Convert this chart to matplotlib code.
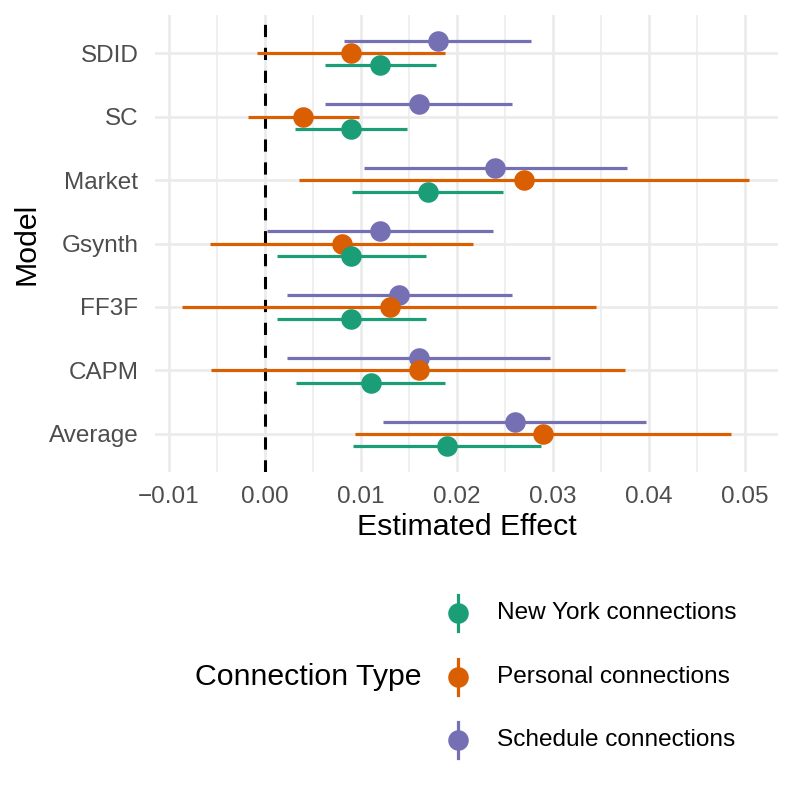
import matplotlib
matplotlib.use("Agg")
import numpy as np
import matplotlib.pyplot as plt
from matplotlib.lines import Line2D

plt.rcParams['font.family'] = ['Liberation Sans', 'DejaVu Sans']

# models, top to bottom
models = ["SDID", "SC", "Market", "Gsynth", "FF3F", "CAPM", "Average"]

# estimates and 95% interval per connection type (same order as models)
ny_est = [0.012, 0.009, 0.017, 0.009, 0.009, 0.011, 0.019]
ny_lo = [0.0062, 0.0031, 0.0091, 0.0012, 0.0012, 0.0032, 0.0092]
ny_hi = [0.0178, 0.0148, 0.0248, 0.0168, 0.0168, 0.0188, 0.0287]

pers_est = [0.009, 0.004, 0.027, 0.008, 0.013, 0.016, 0.029]
pers_lo = [-0.0008, -0.0018, 0.0035, -0.0057, -0.0086, -0.0056, 0.0094]
pers_hi = [0.0187, 0.0098, 0.0504, 0.0217, 0.0345, 0.0375, 0.0485]

sched_est = [0.018, 0.016, 0.024, 0.012, 0.014, 0.016, 0.026]
sched_lo = [0.0082, 0.0063, 0.0103, 0.0002, 0.0023, 0.0023, 0.0123]
sched_hi = [0.0277, 0.0257, 0.0377, 0.0237, 0.0257, 0.0297, 0.0397]

series = [
    ("Schedule connections", sched_est, sched_lo, sched_hi, "#7570B3", 0.19),
    ("Personal connections", pers_est, pers_lo, pers_hi, "#D95F02", 0.0),
    ("New York connections", ny_est, ny_lo, ny_hi, "#1B9E77", -0.19),
]

W = H = 793
fig = plt.figure(figsize=(W / 100, H / 100), dpi=100)
ax = fig.add_axes([155 / W, (H - 472) / H, 623 / W, 457 / H])

ypos = np.arange(len(models))[::-1] + 1  # SDID on top

for name, est, lo, hi, col, off in series:
    y = ypos + off
    ax.hlines(y, lo, hi, color=col, lw=2.3, zorder=3)
    ax.plot(est, y, "o", color=col, ms=14.8, mec="none", zorder=4)

ax.axvline(0, color="black", lw=2.2, linestyle=(0, (4, 3.5)), zorder=2)

ax.set_xlim(-0.01146, 0.05344)
ax.set_ylim(0.4, len(models) + 0.6)
ax.set_yticks(ypos)
ax.set_yticklabels(models)
xt = [-0.01, 0.0, 0.01, 0.02, 0.03, 0.04, 0.05]
ax.set_xticks(xt)
ax.set_xticklabels(["\u22120.01"] + ["%.2f" % v for v in xt[1:]])
ax.set_xticks(np.arange(-0.005, 0.051, 0.01), minor=True)

ax.grid(True, which="major", color="#EBEBEB", lw=1.9, zorder=0)
ax.grid(True, which="minor", axis="x", color="#EBEBEB", lw=1.1, zorder=0)
ax.set_axisbelow(True)
for s in ax.spines.values():
    s.set_visible(False)
ax.tick_params(which="both", length=0, labelsize=17.5, labelcolor="#4D4D4D")
ax.tick_params(axis="x", pad=10)
ax.tick_params(axis="y", pad=12)

ax.set_xlabel("Estimated Effect", fontsize=21.8, labelpad=4)
ax.set_ylabel("Model", fontsize=21.8, labelpad=6)

# legend, ggplot style at the bottom
fig.text(195 / W, 1 - 677 / H, "Connection Type", fontsize=21.8, va="center", ha="left")
legend_items = [("New York connections", "#1B9E77", 613),
                ("Personal connections", "#D95F02", 677),
                ("Schedule connections", "#7570B3", 740)]
for lab, col, yp in legend_items:
    kx = 458 / W
    fig.add_artist(Line2D([kx, kx], [1 - (yp - 18) / H, 1 - (yp + 18) / H],
                          color=col, lw=2.3, transform=fig.transFigure))
    fig.add_artist(Line2D([kx], [1 - yp / H], marker="o", ms=14.8, mec="none",
                          color=col, transform=fig.transFigure))
    fig.text(497 / W, 1 - yp / H, lab, fontsize=17.6, va="center", ha="left")

fig.savefig("out.png", dpi=100, facecolor="white")
